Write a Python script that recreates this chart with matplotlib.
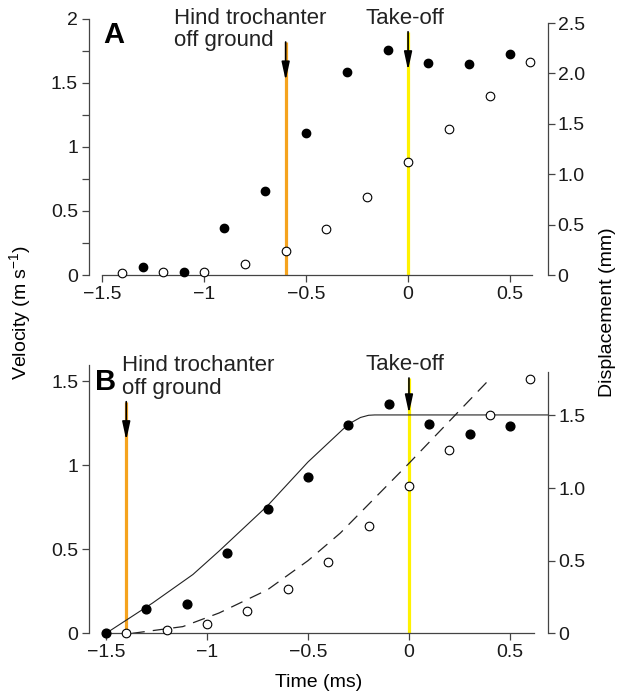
import numpy as np
import matplotlib
matplotlib.use("Agg")
import matplotlib.pyplot as plt

plt.rcParams['font.family'] = ['Liberation Sans', 'DejaVu Sans']
plt.rcParams['mathtext.default'] = 'regular'

# panel A data
t_a_vel = [-1.3, -1.1, -0.9, -0.7, -0.5, -0.3, -0.1, 0.1, 0.3, 0.5]
vel_a = [0.065, 0.02, 0.367, 0.66, 1.107, 1.586, 1.758, 1.656, 1.65, 1.724]
t_a_disp = [-1.4, -1.2, -1.0, -0.8, -0.6, -0.4, -0.2, 0.0, 0.2, 0.4, 0.6]
disp_a = [0.017, 0.027, 0.027, 0.106, 0.238, 0.46, 0.77, 1.12, 1.45, 1.776, 2.11]

# panel B data
t_b_vel = [-1.5, -1.3, -1.1, -0.9, -0.7, -0.5, -0.3, -0.1, 0.1, 0.3, 0.5]
vel_b = [0.0, 0.145, 0.176, 0.48, 0.74, 0.93, 1.24, 1.365, 1.246, 1.185, 1.234]
t_b_disp = [-1.4, -1.2, -1.0, -0.8, -0.6, -0.4, -0.2, 0.0, 0.2, 0.4, 0.6]
disp_b = [0.0, 0.023, 0.062, 0.153, 0.307, 0.493, 0.738, 1.016, 1.26, 1.50, 1.75]

# model curves in panel B
fit_vel_t = [-1.5, -1.27, -1.07, -0.94, -0.7, -0.5, -0.34, -0.3, -0.24, -0.2, -0.17, 0.69]
fit_vel = [0.0, 0.18, 0.35, 0.49, 0.76, 1.02, 1.2, 1.245, 1.285, 1.298, 1.30, 1.30]
fit_disp_t = [-1.37, -1.12, -0.94, -0.7, -0.5, -0.34, 0.0, 0.4]
fit_disp = [0.0, 0.046, 0.14, 0.30, 0.50, 0.69, 1.17, 1.75]

hind_a = -0.6
hind_b = -1.4
takeoff = 0.0

ORANGE = '#f5a31e'
YELLOW = '#fff200'
SPINE = '#444444'
TICK_FS = 14
NOTE_FS = 16

fig = plt.figure(figsize=(6.21, 6.96), dpi=100)


def style_axes(ax, ax2, xlim, ylim, ylim2, vbound, dbound, xbound):
    ax.set_xlim(*xlim)
    ax.set_ylim(*ylim)
    ax2.set_ylim(*ylim2)
    for a in (ax, ax2):
        a.spines['top'].set_visible(False)
        for s in a.spines.values():
            s.set_color(SPINE)
            s.set_linewidth(0.9)
        a.tick_params(labelsize=TICK_FS, color=SPINE, width=0.9, length=5, pad=3,
                      labelcolor='#1a1a1a')
    ax.spines['right'].set_visible(False)
    ax2.spines['left'].set_visible(False)
    ax2.spines['bottom'].set_visible(False)
    ax.spines['left'].set_bounds(*vbound)
    ax2.spines['right'].set_bounds(*dbound)
    ax.spines['bottom'].set_bounds(*xbound)
    ax.set_xticks([-1.5, -1, -0.5, 0, 0.5])
    ax.set_xticklabels(['\u22121.5', '\u22121', '\u22120.5', '0', '0.5'])
    ax2.tick_params(axis='y', pad=2)


def event_line(ax, x, top, tip, color):
    ax.plot([x, x], [0, top], color=color, lw=2.3, zorder=1, solid_capstyle='butt')
    ax.annotate('', xy=(x, tip), xytext=(x, top),
                arrowprops=dict(arrowstyle='-|>,head_length=1.1,head_width=0.24',
                                color='black', lw=1.2, shrinkA=0, shrinkB=0),
                zorder=3)


# ---- panel A ----
axA = fig.add_axes([89 / 621, 1 - 275 / 696, 459 / 621, 265 / 696])
axA2 = axA.twinx()
style_axes(axA, axA2, (-1.564, 0.686), (0, 2.07), (0, 2.629),
           (0, 2), (0, 2.5), (-1.5, 0.61))
axA.set_yticks([0, 0.5, 1, 1.5, 2])
axA.set_yticklabels(['0', '0.5', '1', '1.5', '2'])
axA.set_yticks([0.25, 0.75, 1.25, 1.75], minor=True)
axA.tick_params(axis='y', which='minor', length=5, color=SPINE, width=0.9)
axA2.set_yticks([0, 0.5, 1, 1.5, 2, 2.5])
axA2.set_yticklabels(['0', '0.5', '1.0', '1.5', '2.0', '2.5'])

event_line(axA, hind_a, 1.82, 1.52, ORANGE)
event_line(axA, takeoff, 1.90, 1.60, YELLOW)
axA.plot(t_a_vel, vel_a, 'o', color='black', ms=6, zorder=4, clip_on=False)
axA2.plot(t_a_disp, disp_a, 'o', mfc='white', mec='black', mew=0.8, ms=6.2,
          zorder=4, clip_on=False)
axA.text(-1.147, 2.085, 'Hind trochanter\noff ground', fontsize=NOTE_FS,
         ha='left', va='top', linespacing=1.08, color='#222222')
axA.text(-0.015, 2.085, 'Take-off', fontsize=NOTE_FS, ha='center', va='top',
         color='#222222')
axA.text(-1.494, 1.81, 'A', fontsize=21, fontweight='bold', ha='left',
         va='baseline')

# ---- panel B ----
axB = fig.add_axes([89.3 / 621, 1 - 633.3 / 696, 459 / 621, 275.3 / 696])
axB2 = axB.twinx()
style_axes(axB, axB2, (-1.583, 0.69), (0, 1.639), (0, 1.895),
           (0, 1.6), (0, 1.8), (-1.5, 0.62))
axB.set_yticks([0, 0.5, 1, 1.5])
axB.set_yticklabels(['0', '0.5', '1', '1.5'])
axB2.set_yticks([0, 0.5, 1, 1.5])
axB2.set_yticklabels(['0', '0.5', '1.0', '1.5'])

event_line(axB, hind_b, 1.379, 1.15, ORANGE)
event_line(axB, takeoff, 1.52, 1.31, YELLOW)
axB.plot(fit_vel_t, fit_vel, '-', color='#222222', lw=0.8, zorder=2)
axB2.plot(fit_disp_t, fit_disp, color='#222222', lw=0.9, dashes=(10, 6.5), zorder=2)
axB.plot(t_b_vel, vel_b, 'o', color='black', ms=6.3, zorder=4, clip_on=False)
axB2.plot(t_b_disp, disp_b, 'o', mfc='white', mec='black', mew=0.8, ms=6.2,
          zorder=4, clip_on=False)
axB.text(-1.422, 1.655, 'Hind trochanter\noff ground', fontsize=NOTE_FS,
         ha='left', va='top', linespacing=1.08, color='#222222')
axB.text(-0.02, 1.665, 'Take-off', fontsize=NOTE_FS, ha='center', va='top',
         color='#222222')
axB.text(-1.554, 1.448, 'B', fontsize=21, fontweight='bold', ha='left',
         va='baseline')
axB.set_xlabel('Time (ms)', fontsize=TICK_FS, labelpad=9)

fig.text(20 / 621, 1 - 312 / 696, 'Velocity (m s$^{-1}$)', rotation=90,
         fontsize=TICK_FS, ha='center', va='center')
fig.text(608 / 621, 1 - 312 / 696, 'Displacement (mm)', rotation=90,
         fontsize=TICK_FS, ha='center', va='center')

fig.savefig('out.png', dpi=100)
